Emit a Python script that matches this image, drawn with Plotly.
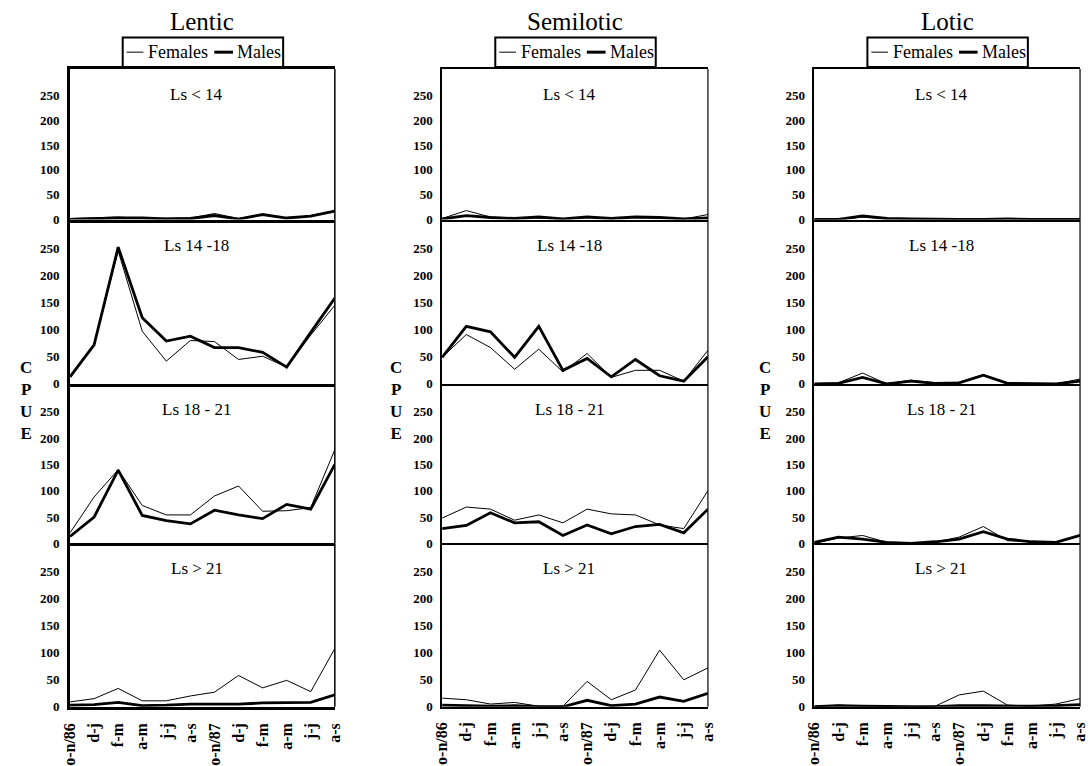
import plotly.graph_objects as go

W, H = 1090, 766
FONT = "Liberation Serif, Times New Roman, serif"

periods = ["o-n/86", "d-j", "f-m", "a-m", "j-j", "a-s",
           "o-n/87", "d-j", "f-m", "a-m", "j-j", "a-s"]
habitats = ["Lentic", "Semilotic", "Lotic"]
size_classes = ["Ls < 14", "Ls 14 -18", "Ls 18 - 21", "Ls > 21"]
y_ticks = [0, 50, 100, 150, 200, 250]

# ---- Lentic ----
lentic_lt14_f = [2, 3, 5, 2, 2, 3, 12, 2, 10, 2, 8, 18]
lentic_lt14_m = [0, 2, 3, 3, 1, 2, 8, 1, 10, 3, 7, 17]
lentic_14_18_f = [13, 72, 245, 97, 42, 80, 78, 45, 51, 31, 90, 145]
lentic_14_18_m = [13, 72, 252, 122, 79, 88, 67, 67, 58, 31, 95, 158]
lentic_18_21_f = [20, 88, 140, 72, 54, 54, 90, 109, 61, 62, 68, 178]
lentic_18_21_m = [13, 50, 139, 53, 43, 37, 63, 54, 47, 74, 65, 150]
lentic_gt21_f = [9, 15, 34, 11, 11, 20, 27, 58, 35, 49, 28, 108]
lentic_gt21_m = [3, 4, 8, 2, 3, 5, 5, 5, 7, 8, 8, 22]

# ---- Semilotic ----
semi_lt14_f = [2, 18, 5, 2, 3, 1, 4, 2, 4, 3, 1, 10]
semi_lt14_m = [1, 8, 4, 2, 5, 1, 5, 2, 5, 4, 1, 3]
semi_14_18_f = [49, 91, 67, 27, 64, 22, 56, 12, 25, 25, 5, 62]
semi_14_18_m = [49, 106, 96, 49, 106, 25, 47, 13, 45, 15, 5, 50]
semi_18_21_f = [48, 69, 65, 44, 54, 39, 65, 56, 54, 35, 28, 100]
semi_18_21_m = [28, 34, 58, 39, 41, 15, 35, 18, 32, 36, 20, 65]
semi_gt21_f = [16, 13, 5, 8, 1, 1, 47, 13, 31, 105, 50, 72]
semi_gt21_m = [3, 2, 1, 2, 0, 0, 12, 2, 5, 18, 10, 25]

# ---- Lotic ----
lotic_lt14_f = [0, 0, 5, 2, 1, 0, 0, 0, 1, 0, 0, 0]
lotic_lt14_m = [0, 0, 7, 2, 1, 0, 0, 0, 1, 0, 0, 0]
lotic_14_18_f = [0, 2, 20, 0, 7, 2, 3, 17, 1, 0, 0, 9]
lotic_14_18_m = [0, 1, 12, 0, 5, 1, 2, 16, 1, 0, 0, 5]
lotic_18_21_f = [0, 10, 15, 2, 0, 2, 12, 32, 5, 3, 2, 15]
lotic_18_21_m = [2, 12, 8, 2, 0, 3, 8, 22, 8, 3, 2, 15]
lotic_gt21_f = [0, 3, 1, 0, 0, 1, 22, 29, 3, 1, 5, 15]
lotic_gt21_m = [0, 2, 1, 0, 0, 0, 2, 2, 1, 1, 2, 4]

data = {
    "Lentic": [(lentic_lt14_f, lentic_lt14_m), (lentic_14_18_f, lentic_14_18_m),
               (lentic_18_21_f, lentic_18_21_m), (lentic_gt21_f, lentic_gt21_m)],
    "Semilotic": [(semi_lt14_f, semi_lt14_m), (semi_14_18_f, semi_14_18_m),
                  (semi_18_21_f, semi_18_21_m), (semi_gt21_f, semi_gt21_m)],
    "Lotic": [(lotic_lt14_f, lotic_lt14_m), (lotic_14_18_f, lotic_14_18_m),
              (lotic_18_21_f, lotic_18_21_m), (lotic_gt21_f, lotic_gt21_m)],
}

# layout geometry (pixels)
col_px = [(62, 331), (440, 710), (818, 1088)]
row_px = [(70, 223), (223, 390), (390, 552), (552, 718)]
axis_w = [3, 1.5, 1.5]
zero_w = [3, 2.2, 2.2]
box_w = [1.5, 1.2, 1.2]


def px(x):
    return x / W


def py(y):
    return 1 - y / H


fig = go.Figure()
layout = {}
annotations = []
shapes = []

idx_x = list(range(len(periods)))

for c, hab in enumerate(habitats):
    x0, x1 = col_px[c]
    cx = (x0 + x1) / 2
    for r, sc in enumerate(size_classes):
        n = r * 3 + c + 1
        sfx = "" if n == 1 else str(n)
        fvals, mvals = data[hab][r]
        fig.add_trace(go.Scatter(x=idx_x, y=fvals, mode="lines",
                                 line=dict(color="black", width=1),
                                 name="Females", showlegend=False,
                                 xaxis="x" + sfx, yaxis="y" + sfx))
        fig.add_trace(go.Scatter(x=idx_x, y=mvals, mode="lines",
                                 line=dict(color="black", width=2.8),
                                 name="Males", showlegend=False,
                                 xaxis="x" + sfx, yaxis="y" + sfx))
        y0, y1 = row_px[r]
        layout["xaxis" + sfx] = dict(
            domain=[px(x0), px(x1)], range=[0, len(periods) - 1],
            anchor="y" + sfx, tickvals=idx_x, ticktext=periods,
            showticklabels=(r == 3), tickangle=-90, ticks="",
            ticklabelstandoff=7,
            tickfont=dict(family=FONT, size=16, color="black", weight="bold"),
            showgrid=False, zeroline=False, showline=True,
            linecolor="black", linewidth=zero_w[c],
            mirror=(r == 0),
        )
        layout["yaxis" + sfx] = dict(
            domain=[py(y1), py(y0)], range=[0, 303], anchor="x" + sfx,
            tickvals=y_ticks, ticks="", ticklabelstandoff=5,
            tickfont=dict(family=FONT, size=13, color="black", weight="bold"),
            showgrid=False, zeroline=False, showline=True,
            linecolor="black", linewidth=axis_w[c],
        )
        # right border of each panel
        shapes.append(dict(type="line", xref="paper", yref="paper",
                           x0=px(x1), x1=px(x1), y0=py(y1), y1=py(y0),
                           line=dict(color="black", width=box_w[c])))
        # size class label
        annotations.append(dict(text=sc, xref="paper", yref="paper",
                                x=px(cx - 6), y=py(y0 + 26),
                                xanchor="center", yanchor="middle",
                                showarrow=False,
                                font=dict(family=FONT, size=17, color="black")))
    # habitat title
    annotations.append(dict(text=hab, xref="paper", yref="paper",
                            x=px(cx), y=py(22), xanchor="center", yanchor="middle",
                            showarrow=False,
                            font=dict(family=FONT, size=25, color="black")))
    # legend box
    shapes.append(dict(type="rect", xref="paper", yref="paper",
                       x0=px(cx - 81), x1=px(cx + 82), y0=py(68), y1=py(38),
                       line=dict(color="black", width=2), fillcolor="white"))
    shapes.append(dict(type="line", xref="paper", yref="paper",
                       x0=px(cx - 77), x1=px(cx - 60), y0=py(53), y1=py(53),
                       line=dict(color="black", width=1)))
    shapes.append(dict(type="line", xref="paper", yref="paper",
                       x0=px(cx + 12), x1=px(cx + 31), y0=py(53), y1=py(53),
                       line=dict(color="black", width=3)))
    annotations.append(dict(text="Females", xref="paper", yref="paper",
                            x=px(cx - 57), y=py(53), xanchor="left", yanchor="middle",
                            showarrow=False,
                            font=dict(family=FONT, size=18, color="black")))
    annotations.append(dict(text="Males", xref="paper", yref="paper",
                            x=px(cx + 33), y=py(53), xanchor="left", yanchor="middle",
                            showarrow=False,
                            font=dict(family=FONT, size=18, color="black")))

# CPUE labels
for xpos in [17, 393, 768]:
    annotations.append(dict(text="C<br>P<br>U<br>E", xref="paper", yref="paper",
                            x=px(xpos), y=py(407), xanchor="center", yanchor="middle",
                            showarrow=False, align="center",
                            font=dict(family=FONT, size=17, color="black", weight="bold")))

fig.update_layout(
    width=W, height=H,
    margin=dict(l=0, r=0, t=0, b=0),
    paper_bgcolor="white", plot_bgcolor="white",
    showlegend=False,
    annotations=annotations, shapes=shapes,
    **layout,
)

fig.write_html("out.html")
